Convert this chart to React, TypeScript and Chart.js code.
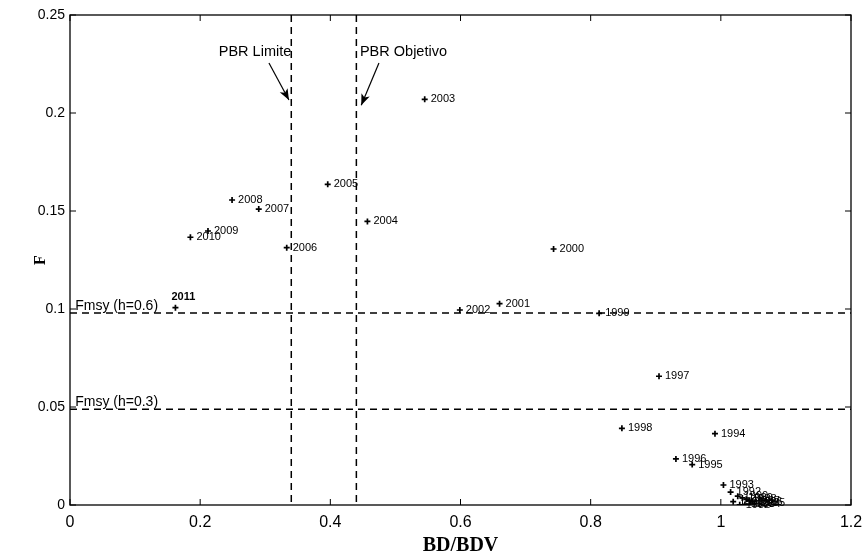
import { useEffect, useRef } from "react";
import { Chart, registerables } from "chart.js";

Chart.register(...registerables);

const years = [2011, 2010, 2009, 2008, 2007, 2006, 2005, 2004, 2003, 2002, 2001, 2000, 1999, 1998, 1997, 1996, 1995, 1994, 1993, 1992, 1991, 1990, 1989, 1988, 1987, 1986, 1985, 1984, 1983, 1982];
const bdRatio = [0.162, 0.185, 0.212, 0.249, 0.290, 0.333, 0.396, 0.457, 0.545, 0.599, 0.660, 0.743, 0.813, 0.848, 0.905, 0.931, 0.956, 0.991, 1.004, 1.015, 1.019, 1.026, 1.033, 1.039, 1.044, 1.048, 1.052, 1.045, 1.037, 1.029];
const fishing = [0.1007, 0.1366, 0.1398, 0.1556, 0.151, 0.1313, 0.1636, 0.1447, 0.207, 0.0995, 0.1027, 0.1306, 0.0978, 0.0391, 0.0657, 0.0235, 0.0206, 0.0364, 0.0102, 0.0066, 0.0017, 0.0045, 0.0036, 0.0029, 0.0023, 0.0016, 0.0009, 0.0005, 0.0003, 0.0001];

const pbrValues = [0.34, 0.44];
const pbrLabels = ["PBR Limite", "PBR Objetivo"];
const fmsyValues = [0.098, 0.0488];
const fmsyLabels = ["Fmsy (h=0.6)", "Fmsy (h=0.3)"];

const labelOffsets: Record<number, [number, number]> = {
  2011: [-4, -11],
};

function arrow(ctx: CanvasRenderingContext2D, x0: number, y0: number, x1: number, y1: number) {
  ctx.beginPath();
  ctx.moveTo(x0, y0);
  ctx.lineTo(x1, y1);
  ctx.stroke();
  const a = Math.atan2(y1 - y0, x1 - x0);
  const len = 12, w = 0.38;
  ctx.beginPath();
  ctx.moveTo(x1, y1);
  ctx.lineTo(x1 - len * Math.cos(a - w), y1 - len * Math.sin(a - w));
  ctx.lineTo(x1 - len * 0.7 * Math.cos(a), y1 - len * 0.7 * Math.sin(a));
  ctx.lineTo(x1 - len * Math.cos(a + w), y1 - len * Math.sin(a + w));
  ctx.closePath();
  ctx.fill();
}

const annotPlugin = {
  id: "annot",
  afterDatasetsDraw(chart: any) {
    const { ctx, chartArea } = chart;
    const { left, right, top, bottom } = chartArea;
    const x = chart.scales.x;
    const y = chart.scales.y;
    ctx.save();
    ctx.strokeStyle = "#000";
    ctx.fillStyle = "#000";
    ctx.lineWidth = 1.5;
    ctx.setLineDash([7, 5]);
    pbrValues.forEach((v) => {
      const px = x.getPixelForValue(v);
      ctx.beginPath();
      ctx.moveTo(px, top);
      ctx.lineTo(px, bottom);
      ctx.stroke();
    });
    fmsyValues.forEach((v) => {
      const py = y.getPixelForValue(v);
      ctx.beginPath();
      ctx.moveTo(left, py);
      ctx.lineTo(right, py);
      ctx.stroke();
    });
    ctx.setLineDash([]);

    ctx.lineWidth = 1.3;
    ctx.strokeRect(left, top, right - left, bottom - top);
    ctx.lineWidth = 1;
    x.ticks.forEach((t: any) => {
      const px = x.getPixelForValue(t.value);
      ctx.beginPath();
      ctx.moveTo(px, bottom);
      ctx.lineTo(px, bottom - 6);
      ctx.moveTo(px, top);
      ctx.lineTo(px, top + 6);
      ctx.stroke();
    });
    y.ticks.forEach((t: any) => {
      const py = y.getPixelForValue(t.value);
      ctx.beginPath();
      ctx.moveTo(left, py);
      ctx.lineTo(left + 6, py);
      ctx.moveTo(right, py);
      ctx.lineTo(right - 6, py);
      ctx.stroke();
    });

    ctx.font = "14px 'Liberation Sans', Arial, sans-serif";
    ctx.textAlign = "left";
    ctx.textBaseline = "alphabetic";
    fmsyValues.forEach((v, i) => {
      ctx.fillText(fmsyLabels[i], x.getPixelForValue(0.008), y.getPixelForValue(v) - 3);
    });

    ctx.font = "14.5px 'Liberation Sans', Arial, sans-serif";
    ctx.textBaseline = "middle";
    ctx.textAlign = "right";
    ctx.fillText(pbrLabels[0], x.getPixelForValue(0.34), y.getPixelForValue(0.2311));
    ctx.textAlign = "left";
    ctx.fillText(pbrLabels[1], x.getPixelForValue(0.4455), y.getPixelForValue(0.2311));
    ctx.lineWidth = 1.2;
    arrow(ctx, x.getPixelForValue(0.3057), y.getPixelForValue(0.2255), x.getPixelForValue(0.3364), y.getPixelForValue(0.2066));
    arrow(ctx, x.getPixelForValue(0.4747), y.getPixelForValue(0.2255), x.getPixelForValue(0.4475), y.getPixelForValue(0.204));

    ctx.textAlign = "left";
    ctx.textBaseline = "middle";
    const meta = chart.getDatasetMeta(0);
    meta.data.forEach((pt: any, i: number) => {
      const yr = years[i];
      const off = labelOffsets[yr] || [6, 0];
      ctx.font = yr === 2011 ? "bold 11px 'Liberation Sans', Arial, sans-serif" : "11px 'Liberation Sans', Arial, sans-serif";
      ctx.fillText(String(yr), pt.x + off[0], pt.y + off[1]);
    });
    ctx.restore();
  },
};

export default function App() {
  const ref = useRef<HTMLCanvasElement | null>(null);
  useEffect(() => {
    if (!ref.current) return;
    const chart = new Chart(ref.current, {
      type: "scatter",
      data: {
        datasets: [
          {
            data: bdRatio.map((v, i) => ({ x: v, y: fishing[i] })),
            pointStyle: "cross",
            radius: 3,
            borderWidth: 1.7,
            borderColor: "#000",
            backgroundColor: "#000",
          },
        ],
      },
      options: {
        animation: false,
        responsive: true,
        maintainAspectRatio: false,
        layout: { padding: { top: 15, right: 15, left: 0, bottom: 0 } },
        plugins: { legend: { display: false }, tooltip: { enabled: false } },
        scales: {
          x: {
            type: "linear",
            min: 0,
            max: 1.2,
            grid: { display: false, drawTicks: false },
            border: { display: false },
            ticks: {
              stepSize: 0.2,
              color: "#000",
              padding: 8,
              font: { size: 16, family: "'Liberation Sans', Arial, sans-serif" },
              callback: (v: any) => String(parseFloat(Number(v).toFixed(2))),
            },
            title: {
              display: true,
              text: "BD/BDV",
              color: "#000",
              font: { size: 20, weight: "bold", family: "'Liberation Serif', 'Times New Roman', serif" },
              padding: { top: 0, bottom: -2 },
            },
            afterFit: (s: any) => {
              s.height = 51;
              s.paddingLeft = 0;
              s.paddingRight = 0;
            },
          },
          y: {
            type: "linear",
            min: 0,
            max: 0.25,
            grid: { display: false, drawTicks: false },
            border: { display: false },
            ticks: {
              stepSize: 0.05,
              color: "#000",
              padding: 5,
              font: { size: 14, family: "'Liberation Sans', Arial, sans-serif" },
              callback: (v: any) => String(parseFloat(Number(v).toFixed(2))),
            },
            title: {
              display: true,
              text: "F",
              color: "#000",
              font: { size: 16, weight: "bold", family: "'Liberation Serif', 'Times New Roman', serif" },
              padding: { top: 31, bottom: 0 },
            },
            afterFit: (s: any) => {
              s.width = 70;
              s.paddingTop = 0;
              s.paddingBottom = 0;
            },
          },
        },
      },
      plugins: [annotPlugin],
    });
    return () => chart.destroy();
  }, []);
  return (
    <div style={{ position: "absolute", left: 0, top: 0, width: 866, height: 556, background: "#fff" }}>
      <canvas ref={ref} />
    </div>
  );
}
